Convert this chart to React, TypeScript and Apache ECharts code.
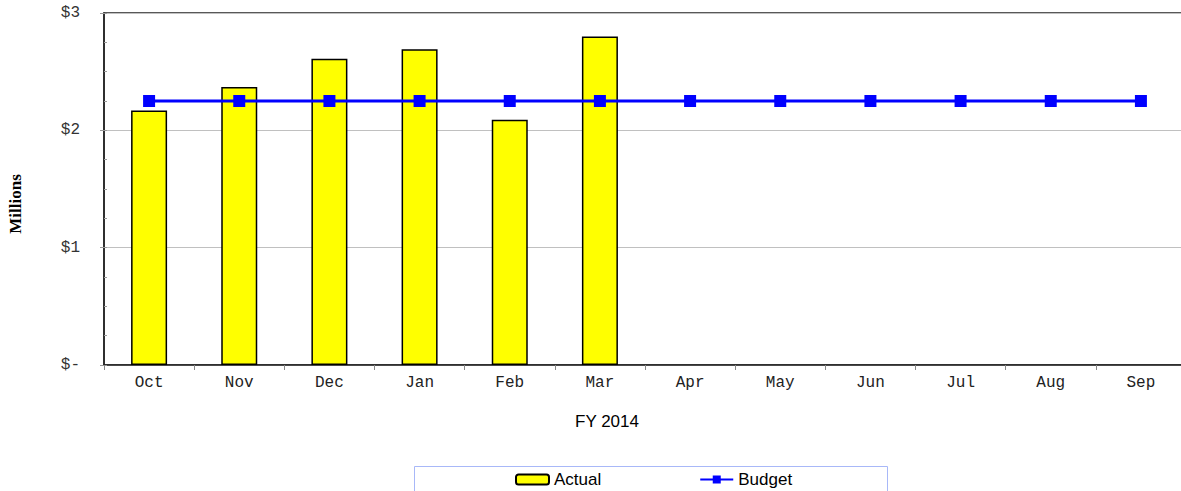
import React, { useEffect, useRef } from "react";
import * as echarts from "echarts";

const categories = ["Oct", "Nov", "Dec", "Jan", "Feb", "Mar", "Apr", "May", "Jun", "Jul", "Aug", "Sep"];
const actual = [2.17, 2.37, 2.61, 2.69, 2.09, 2.8, null, null, null, null, null, null];
const budget = [2.25, 2.25, 2.25, 2.25, 2.25, 2.25, 2.25, 2.25, 2.25, 2.25, 2.25, 2.25];
const yTitle = "Millions";
const xTitle = "FY 2014";

const mono = "'Liberation Mono', 'Courier New', monospace";
const sans = "'Liberation Sans', Arial, sans-serif";
const serif = "'Liberation Serif', 'Times New Roman', serif";

export default function App() {
  const ref = useRef<HTMLDivElement>(null);
  useEffect(() => {
    document.body.style.margin = "0";
    const chart = echarts.init(ref.current!, null, { renderer: "svg" });
    chart.setOption({
      animation: false,
      backgroundColor: "#fff",
      grid: {
        left: 104,
        right: -5,
        top: 13,
        bottom: 126,
        outerBoundsMode: "none",
        containLabel: false,
        show: true,
        borderColor: "#222",
        borderWidth: 1.5,
      },
      legend: {
        left: 515,
        top: 471,
        padding: 0,
        itemWidth: 33,
        itemHeight: 10,
        itemGap: 98,
        textStyle: { fontFamily: sans, fontSize: 17, color: "#000" },
        data: ["Actual", "Budget"],
      },
      graphic: [
        {
          type: "rect",
          shape: { x: 414.5, y: 466.5, width: 473, height: 40 },
          style: { fill: "none", stroke: "#a8b8f8", lineWidth: 1 },
          z: -1,
        },
        {
          type: "text",
          x: 15,
          y: 204,
          rotation: Math.PI / 2,
          style: {
            text: yTitle,
            fontFamily: serif,
            fontSize: 17,
            fontWeight: "bold",
            fill: "#000",
            align: "center",
            verticalAlign: "middle",
          },
        },
        {
          type: "text",
          x: 607,
          y: 421,
          style: {
            text: xTitle,
            fontFamily: sans,
            fontSize: 17,
            fill: "#000",
            align: "center",
            verticalAlign: "middle",
          },
        },
      ],
      xAxis: {
        type: "category",
        data: categories,
        boundaryGap: true,
        axisLine: { lineStyle: { color: "#222", width: 1.5 } },
        axisTick: { show: true, length: 5, lineStyle: { color: "#888" } },
        axisLabel: { fontFamily: mono, fontSize: 16, color: "#222", margin: 10 },
      },
      yAxis: [
        {
          type: "value",
          min: 0,
          max: 3,
          interval: 1,
          axisLine: { show: true, lineStyle: { color: "#222", width: 1.5 } },
          axisTick: { show: true, length: 4, lineStyle: { color: "#999" } },
          axisLabel: {
            fontFamily: mono,
            fontSize: 16,
            color: "#333",
            margin: 24,
            formatter: (v: number) => (v === 0 ? "$-" : "$" + v),
          },
          splitLine: { show: true, lineStyle: { color: "#c0c0c0", width: 1 } },
        },
        {
          type: "value",
          min: 0,
          max: 3,
          interval: 0.25,
          position: "left",
          axisLine: { show: false },
          axisTick: { show: true, inside: true, length: 3, lineStyle: { color: "#999" } },
          axisLabel: { show: false },
          splitLine: { show: false },
        },
      ],
      series: [
        {
          name: "Actual",
          type: "bar",
          data: actual,
          barWidth: 36,
          itemStyle: { color: "#ffff00", borderColor: "#000", borderWidth: 1.5 },
        },
        {
          name: "Budget",
          type: "line",
          data: budget,
          symbol: "rect",
          symbolSize: 12,
          lineStyle: { color: "#0000ff", width: 3 },
          itemStyle: { color: "#0000ff" },
          z: 5,
        },
      ],
    });
    return () => chart.dispose();
  }, []);
  return <div ref={ref} style={{ width: 1181, height: 491 }} />;
}
